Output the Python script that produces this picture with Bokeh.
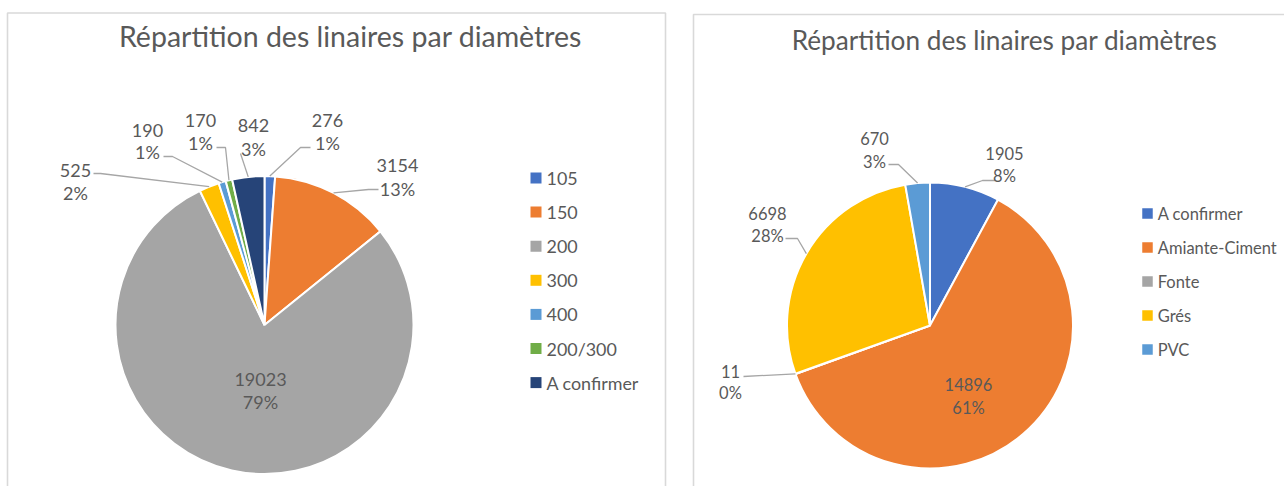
import numpy as np
from bokeh.plotting import figure
from bokeh.models import Range1d, ColumnDataSource
from bokeh.core.properties import value
from bokeh.embed import file_html
from bokeh.resources import INLINE

# ---------------- data ----------------
title_text = "Répartition des linaires par diamètres"

left_categories = ["105", "150", "200", "300", "400", "200/300", "A confirmer"]
left_values = [276, 3154, 19023, 525, 190, 170, 842]
left_pcts = [1, 13, 79, 2, 1, 1, 3]
left_colors = ["#4472C4", "#ED7D31", "#A5A5A5", "#FFC000", "#5B9BD5", "#70AD47", "#264478"]

right_categories = ["A confirmer", "Amiante-Ciment", "Fonte", "Grés", "PVC"]
right_values = [1905, 14896, 11, 6698, 670]
right_pcts = [8, 61, 0, 28, 3]
right_colors = ["#4472C4", "#ED7D31", "#A5A5A5", "#FFC000", "#5B9BD5"]

# ---------------- layout ----------------
REF_W, REF_H = 1284, 486
FONT = value("Lato")
TXT = "#595959"
LEAD = "#A6A6A6"


def Y(y):
    return REF_H - y


p = figure(width=REF_W, height=REF_H, x_range=Range1d(0, REF_W), y_range=Range1d(0, REF_H),
           output_backend="svg", toolbar_location=None, min_border=0,
           x_axis_location=None, y_axis_location=None)
p.grid.visible = False
p.outline_line_color = None
p.background_fill_color = "white"
p.border_fill_color = "white"

# chart frames
p.quad(left=[7, 693], right=[665, 1320], top=[Y(12.5), Y(14)], bottom=[-30, -30],
       fill_color=None, line_color="#D9D9D9", line_width=1.6)

# titles
p.text(x=[350], y=[Y(35)], text=[title_text],
       text_font=FONT, text_font_size=value("28.5px"), text_color=TXT,
       text_align="center", text_baseline="middle")
p.text(x=[1004], y=[Y(39)], text=[title_text],
       text_font=FONT, text_font_size=value("26.2px"), text_color=TXT,
       text_align="center", text_baseline="middle")


def draw_pie(values, pcts, colors, categories, cx, cy, r, label_pos, leaders,
             label_size, legend_x, legend_y0, legend_step, legend_size, sq):
    v = np.array(values, dtype=float)
    tot = v.sum()
    cum = np.concatenate([[0.0], np.cumsum(v)])
    a_start = np.pi / 2 - 2 * np.pi * cum[:-1] / tot
    a_end = np.pi / 2 - 2 * np.pi * cum[1:] / tot
    src = ColumnDataSource(dict(start=a_end, end=a_start, color=colors))
    p.wedge(x=cx, y=Y(cy), radius=r, start_angle="start", end_angle="end",
            fill_color="color", line_color="white", line_width=2, source=src)
    mid = (a_start + a_end) / 2
    ex = cx + r * np.cos(mid)
    ey = Y(cy) + r * np.sin(mid)

    # leader lines
    xs, ys = [], []
    for i, ld in leaders.items():
        (x0, y0), (x1, y1) = ld
        xs.append([x0, x1, ex[i]])
        ys.append([Y(y0), Y(y1), ey[i]])
    p.multi_line(xs=xs, ys=ys, line_color=LEAD, line_width=1.3)

    # data labels
    lx, ly, lt = [], [], []
    for i, (x, y1, y2) in label_pos.items():
        lx += [x, x]
        ly += [Y(y1), Y(y2)]
        lt += [f"{values[i]}", f"{pcts[i]}%"]
    p.text(x=lx, y=ly, text=lt, text_font=FONT, text_font_size=value(label_size),
           text_color=TXT, text_align="center", text_baseline="middle")

    # legend
    n = len(categories)
    ly = [Y(legend_y0 + k * legend_step) for k in range(n)]
    p.rect(x=[legend_x] * n, y=ly, width=sq, height=sq, fill_color=colors, line_color=None)
    p.text(x=[legend_x + sq / 2 + 5] * n, y=ly, text=categories, text_font=FONT,
           text_font_size=value(legend_size), text_color=TXT, text_align="left",
           text_baseline="middle")


left_labels = {0: (327, 120, 142), 1: (397, 165, 188), 2: (260, 379, 401),
               3: (75, 170, 192), 4: (147, 130, 151), 5: (200, 120, 142), 6: (253, 125, 148)}
left_leaders = {0: ((310, 147), (300, 147)), 1: ((378, 189), (368, 189)),
                3: ((93, 173), (100, 173)), 4: ((163, 156), (172, 156)),
                5: ((216, 147), (225, 147)), 6: ((240, 153), (240, 153))}

right_labels = {0: (1004, 153, 175), 1: (968, 384, 407), 2: (730, 371, 392),
                3: (767, 213, 235), 4: (874, 138, 161)}
right_leaders = {0: ((995, 180), (982, 180)), 2: ((743, 376), (743, 376)),
                 3: ((785, 238), (797, 238)), 4: ((888, 164), (898, 164))}

draw_pie(left_values, left_pcts, left_colors, left_categories, 264, 324.5, 149,
         left_labels, left_leaders, "18px", 535.5, 177.5, 34.1, "17.9px", 11)
draw_pie(right_values, right_pcts, right_colors, right_categories, 929.5, 325, 143,
         right_labels, right_leaders, "16.5px", 1147, 213, 34, "16.5px", 10.5)

open("out.html", "w").write(file_html(p, INLINE))
